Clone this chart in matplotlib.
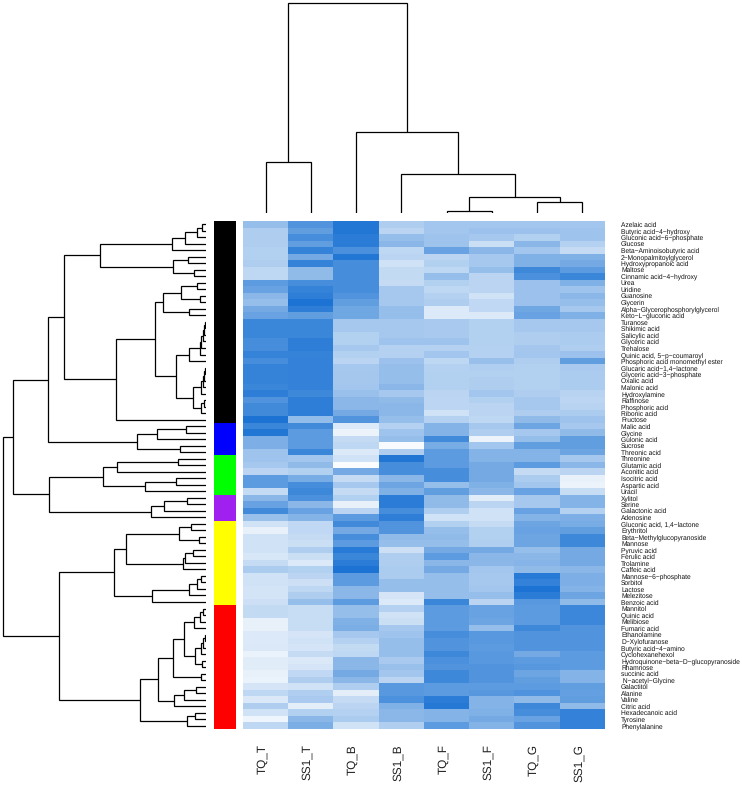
import matplotlib
matplotlib.use("Agg")
import matplotlib.pyplot as plt
import numpy as np
from matplotlib.colors import LinearSegmentedColormap, ListedColormap
from matplotlib.transforms import ScaledTranslation

plt.rcParams["font.family"] = ["Liberation Sans", "DejaVu Sans"]
plt.rcParams["text.hinting"] = "no_hinting"

W, H = 742, 785

samples = ["TQ_T", "SS1_T", "TQ_B", "SS1_B", "TQ_F", "SS1_F", "TQ_G", "SS1_G"]

metabolites = [
    "Azelaic acid", "Butyric acid−4−hydroxy", "Gluconic acid−6−phosphate", "Glucose",
    "Beta−Aminoisobutyric acid", "2−Monopalmitoylglycerol", "Hydroxypropanoic acid", "Maltose",
    "Cinnamic acid−4−hydroxy", "Urea", "Uridine", "Guanosine", "Glycerin",
    "Alpha−Glycerophosphorylglycerol", "Keto−L−gluconic acid", "Turanose", "Shikimic acid",
    "Salicylic acid", "Glyceric acid", "Trehalose", "Quinic acid, 5−p−coumaroyl",
    "Phosphoric acid monomethyl ester", "Glucaric acid−1,4−lactone", "Glyceric acid−3−phosphate",
    "Oxalic acid", "Malonic acid", "Hydroxylamine", "Raffinose", "Phosphoric acid", "Ribonic acid",
    "Fructose", "Malic acid", "Glycine", "Gulonic acid", "Sucrose", "Threonic acid", "Threonine",
    "Glutamic acid", "Aconitic acid", "Isocitric acid", "Aspartic acid", "Uracil", "Xylitol",
    "Serine", "Galactonic acid", "Adenosine", "Gluconic acid, 1,4−lactone", "Erythritol",
    "Beta−Methylglucopyranoside", "Mannose", "Pyruvic acid", "Ferulic acid", "Trolamine",
    "Caffeic acid", "Mannose−6−phosphate", "Sorbitol", "Lactose", "Melezitose", "Benzoic acid",
    "Mannitol", "Quinic acid", "Melibiose", "Fumaric acid", "Ethanolamine", "D−Xylofuranose",
    "Butyric acid−4−amino", "Cyclohexanehexol", "Hydroquinone−beta−D−glucopyranoside", "Rhamnose",
    "succinic acid", " N−acetyl−Glycine", "Galactitol", "Alanine", "Valine", "Citric acid",
    "Hexadecanoic acid", "Tyrosine", "Phenylalanine",
]

# 0 = white, 10 = darkest blue
values = [
    [4.5, 7.5, 9.5, 3.5, 4.0, 4.0, 4.0, 4.0],
    [3.5, 6.8, 9.5, 3.0, 4.0, 4.3, 4.3, 4.2],
    [3.5, 8.0, 9.2, 4.5, 4.2, 3.8, 3.3, 4.2],
    [3.5, 6.8, 9.2, 5.0, 4.2, 2.3, 5.0, 3.2],
    [3.3, 8.7, 7.8, 2.8, 6.5, 5.0, 4.0, 2.5],
    [3.3, 6.0, 9.5, 3.0, 3.0, 3.8, 5.5, 5.5],
    [3.5, 8.7, 8.0, 2.0, 3.3, 3.8, 5.5, 6.0],
    [2.8, 4.8, 8.0, 2.6, 2.8, 4.5, 8.3, 7.0],
    [2.8, 4.8, 8.0, 2.6, 4.5, 3.0, 7.8, 8.5],
    [7.0, 8.0, 8.0, 2.5, 3.3, 3.0, 4.3, 5.5],
    [6.5, 8.7, 8.0, 3.8, 2.8, 3.0, 4.3, 4.2],
    [5.0, 9.0, 7.5, 3.8, 3.2, 2.0, 4.3, 5.0],
    [4.5, 9.8, 6.8, 3.8, 3.5, 2.7, 4.3, 4.5],
    [6.0, 9.0, 6.2, 4.5, 1.5, 2.7, 6.2, 3.8],
    [6.5, 6.8, 6.2, 4.5, 1.5, 1.5, 6.5, 5.5],
    [8.5, 8.5, 3.8, 3.8, 3.7, 3.3, 3.8, 3.8],
    [8.5, 8.5, 3.8, 3.8, 3.7, 3.3, 3.8, 3.8],
    [8.5, 8.5, 3.3, 3.8, 3.7, 3.3, 3.5, 3.6],
    [8.0, 9.0, 3.3, 4.2, 4.2, 3.3, 3.5, 3.6],
    [8.0, 9.0, 3.8, 3.2, 3.2, 3.2, 3.9, 3.5],
    [8.7, 8.7, 3.3, 3.2, 4.0, 3.2, 4.0, 4.3],
    [8.0, 8.8, 3.0, 4.3, 2.8, 4.4, 3.5, 6.8],
    [8.7, 8.8, 3.8, 4.5, 3.2, 3.4, 3.3, 3.7],
    [8.7, 8.8, 3.9, 4.5, 3.3, 3.3, 3.3, 3.6],
    [8.7, 8.8, 3.9, 4.5, 3.3, 3.5, 3.3, 3.6],
    [8.5, 8.8, 4.0, 5.0, 3.3, 3.5, 3.3, 3.6],
    [9.0, 8.3, 4.4, 3.8, 3.0, 4.0, 3.5, 3.1],
    [7.5, 9.0, 5.0, 4.8, 2.9, 3.3, 3.8, 2.9],
    [8.2, 9.0, 5.0, 5.0, 2.9, 3.0, 3.8, 3.1],
    [8.2, 9.0, 6.0, 5.0, 2.0, 3.0, 3.5, 3.6],
    [9.8, 4.7, 7.5, 4.5, 3.2, 2.8, 4.8, 4.2],
    [8.5, 8.2, 1.5, 3.2, 5.3, 3.8, 6.3, 3.8],
    [9.5, 7.0, 0.8, 4.2, 5.3, 3.5, 3.8, 4.8],
    [5.6, 7.0, 2.5, 4.5, 8.2, 0.8, 4.5, 6.8],
    [5.6, 7.0, 2.8, 0.3, 5.8, 4.0, 6.8, 6.8],
    [4.2, 8.5, 1.5, 3.5, 7.0, 5.3, 5.3, 6.3],
    [4.2, 4.0, 2.0, 9.6, 7.0, 5.3, 5.3, 3.8],
    [3.8, 4.8, 0.2, 8.0, 7.0, 6.0, 7.0, 5.0],
    [3.0, 3.3, 6.0, 8.0, 8.0, 6.0, 2.5, 3.0],
    [7.0, 5.8, 2.5, 5.0, 8.0, 6.0, 3.6, 1.0],
    [7.0, 8.0, 3.8, 6.3, 4.5, 5.5, 4.0, 0.8],
    [2.5, 8.3, 2.5, 5.5, 6.8, 5.0, 6.5, 2.4],
    [5.0, 7.8, 3.3, 9.2, 4.8, 1.3, 3.8, 5.3],
    [6.5, 5.0, 1.0, 9.2, 4.8, 3.0, 3.8, 5.3],
    [8.2, 6.5, 3.0, 8.0, 3.4, 2.0, 6.5, 3.2],
    [4.4, 5.3, 7.0, 9.0, 2.0, 2.0, 5.3, 5.6],
    [2.0, 2.7, 8.2, 7.5, 3.3, 2.5, 6.3, 5.8],
    [1.0, 2.7, 6.0, 7.5, 4.5, 3.3, 6.5, 6.8],
    [2.0, 2.5, 8.0, 4.8, 4.8, 3.3, 6.3, 8.3],
    [2.0, 2.3, 7.0, 4.5, 4.5, 3.4, 6.3, 8.3],
    [2.0, 3.5, 9.3, 2.2, 6.0, 6.0, 4.5, 6.0],
    [1.7, 2.3, 8.5, 3.5, 7.0, 5.0, 5.0, 6.0],
    [2.5, 1.5, 9.2, 3.5, 5.0, 5.0, 5.2, 6.0],
    [3.6, 3.3, 9.8, 3.6, 6.0, 4.0, 4.8, 5.0],
    [2.0, 3.0, 7.0, 3.6, 4.5, 3.8, 9.3, 5.6],
    [2.0, 2.2, 7.0, 4.5, 4.5, 3.8, 8.8, 5.6],
    [1.9, 2.8, 5.0, 4.5, 4.5, 4.0, 9.8, 5.3],
    [1.9, 3.5, 5.0, 1.8, 4.5, 4.5, 9.2, 6.3],
    [2.2, 4.5, 7.0, 1.5, 8.5, 3.0, 7.2, 4.8],
    [2.6, 2.4, 4.5, 3.2, 7.0, 6.5, 7.0, 8.4],
    [2.6, 2.4, 4.5, 2.0, 7.0, 6.5, 7.0, 8.4],
    [1.0, 2.4, 5.5, 2.3, 7.0, 6.3, 7.0, 8.4],
    [1.0, 2.4, 5.7, 3.8, 7.0, 4.5, 8.3, 7.5],
    [1.5, 1.8, 3.8, 4.2, 8.0, 7.2, 7.5, 7.5],
    [1.5, 2.0, 3.2, 4.5, 7.5, 7.2, 7.5, 7.5],
    [1.6, 1.8, 2.6, 4.5, 7.5, 7.0, 7.5, 7.5],
    [0.9, 2.5, 2.8, 4.5, 8.3, 7.2, 6.0, 7.0],
    [1.3, 1.6, 5.0, 3.7, 7.8, 7.2, 7.0, 7.0],
    [1.3, 1.8, 5.0, 4.4, 7.5, 7.5, 7.3, 7.0],
    [1.0, 2.7, 6.0, 4.0, 8.3, 7.5, 6.3, 5.3],
    [0.9, 3.5, 5.0, 3.0, 8.3, 7.5, 6.8, 5.3],
    [1.8, 2.0, 3.5, 7.2, 7.0, 7.0, 7.0, 6.8],
    [2.8, 3.4, 1.2, 7.2, 7.0, 7.3, 7.6, 6.7],
    [1.6, 3.7, 2.5, 7.7, 9.2, 5.3, 4.8, 6.8],
    [3.5, 1.2, 3.0, 5.5, 9.4, 5.3, 8.3, 4.8],
    [2.0, 3.3, 3.2, 5.0, 5.3, 5.5, 8.0, 8.8],
    [0.7, 5.0, 3.6, 5.0, 5.3, 6.0, 6.5, 8.8],
    [2.8, 5.7, 2.0, 3.4, 7.0, 5.3, 7.5, 8.8],
]

group_colors = ["black", "#0000ff", "#00ff00", "#a020f0", "#ffff00", "#ff0000"]
group_sizes = [31, 5, 6, 4, 13, 19]

# merges: positive = leaf number, negative = earlier merge number, then height
row_merges = [
    (1, 2, 4.3), (-1, 3, 9.3), (-2, 4, 21), (-3, 5, 34.3), (6, 7, 17.7), (8, 9, 12),
    (-5, -6, 33.3), (-4, -7, 106), (10, 11, 8.7), (12, 13, 6), (-9, -10, 25.3), (14, 15, 17.3),
    (-11, -12, 42.7), (16, 17, 1), (-14, 18, 2), (-15, 19, 3.3), (-16, 20, 4.7), (-17, 21, 5.7),
    (-18, 22, 17.3), (23, 24, 0.7), (-20, 25, 1.7), (-21, 26, 2.7), (-22, 27, 4.7), (28, 29, 1.7),
    (-24, 30, 4.7), (-23, -25, 12.7), (-19, -26, 30), (-13, -27, 51), (-28, 31, 90.3),
    (-8, -29, 141.7), (32, 33, 20.3), (-31, 34, 48.7), (35, 36, 26), (-32, -33, 69.3),
    (-30, -34, 158.3), (37, 38, 28.3), (-36, 39, 89), (40, 41, 30), (-38, 42, 61),
    (-37, -39, 103.3), (43, 44, 19), (-41, 45, 42.3), (-42, 46, 55), (-40, -43, 156.7),
    (-35, -44, 192.7), (47, 48, 15), (49, 50, 6.7), (-46, -47, 26.7), (51, 52, 13.3),
    (-49, 53, 21), (-50, 54, 22.7), (-48, -51, 80.3), (55, 56, 4.7), (-53, 57, 8.7),
    (-54, 58, 17.3), (-55, 59, 54), (-52, -56, 92.3), (60, 61, 3.3), (-58, 62, 6), (-59, 63, 12),
    (64, 65, 1), (-61, 66, 2.7), (-62, 67, 5.3), (68, 69, 3.7), (-63, -64, 10.7), (-60, -65, 22.3),
    (70, 71, 4.7), (-66, -67, 32.7), (72, 73, 10.3), (-69, 74, 22.3), (-70, 75, 32),
    (-68, -71, 48), (76, 77, 11.3), (-73, 78, 19.3), (-72, -74, 66.3), (-57, -75, 147.3),
    (-45, -76, 203.3),
]

col_merges = [
    (1, 2, 50.3), (5, 6, 2), (7, 8, 11), (-2, -3, 16), (4, -4, 38.3), (3, -5, 80.7), (-1, -6, 210),
]


def ax_px(x0, y0, x1, y1):
    return fig.add_axes([x0 / W, 1 - y1 / H, (x1 - x0) / W, (y1 - y0) / H])


def dendro_segments(merges):
    # walk the merges, each one is centred on its two children
    pos, high, segs = {}, {}, []
    for i, (a, b, h) in enumerate(merges, start=1):
        pa = pos[a] if a < 0 else a - 0.5
        pb = pos[b] if b < 0 else b - 0.5
        ha = high[a] if a < 0 else 0
        hb = high[b] if b < 0 else 0
        segs.append(([pa, pa, pb, pb], [ha, h, h, hb]))
        pos[-i] = (pa + pb) / 2
        high[-i] = h
    return segs


fig = plt.figure(figsize=(W / 100, H / 100), dpi=100)

# heatmap
cmap = LinearSegmentedColormap.from_list("blues", ["#ffffff", "#1871d3"])
ax = ax_px(243, 221, 605, 729)
ax.imshow(np.array(values), cmap=cmap, vmin=0, vmax=10, aspect="auto", interpolation="nearest")
for s in ax.spines.values():
    s.set_visible(False)
ax.yaxis.tick_right()
ax.set_yticks(range(len(metabolites)))
ax.set_yticklabels(metabolites, fontsize=4.8, color="#111111")
ax.tick_params(axis="y", length=0, pad=11.5)
ax.set_xticks(range(len(samples)))
ax.set_xticklabels(samples, rotation=90, fontsize=8.5, color="#222222")
ax.tick_params(axis="x", length=0, pad=11)
shift = ScaledTranslation(-2.5 / 72, 0, fig.dpi_scale_trans)
for lab in ax.get_xticklabels():
    lab.set_transform(lab.get_transform() + shift)

# side colour bar
groups = np.repeat(np.arange(len(group_sizes)), group_sizes)
ax_side = ax_px(213.7, 221, 235, 729)
ax_side.imshow(groups[:, None], cmap=ListedColormap(group_colors), aspect="auto", interpolation="nearest")
ax_side.axis("off")

# row dendrogram, leaves on the right
ax_row = ax_px(0, 221, 206, 729)
for p, h in dendro_segments(row_merges):
    ax_row.plot(h, p, color="black", lw=0.9, solid_joinstyle="miter", solid_capstyle="butt")
ax_row.set_xlim(206, 0)
ax_row.set_ylim(len(metabolites), 0)
ax_row.axis("off")

# column dendrogram, leaves at the bottom
ax_col = ax_px(243, 0, 605, 212.7)
for p, h in dendro_segments(col_merges):
    ax_col.plot(p, h, color="black", lw=0.9, solid_joinstyle="miter", solid_capstyle="butt")
ax_col.set_xlim(0, len(samples))
ax_col.set_ylim(0, 212.7)
ax_col.axis("off")

fig.savefig("out.png", dpi=100)
plt.close(fig)
